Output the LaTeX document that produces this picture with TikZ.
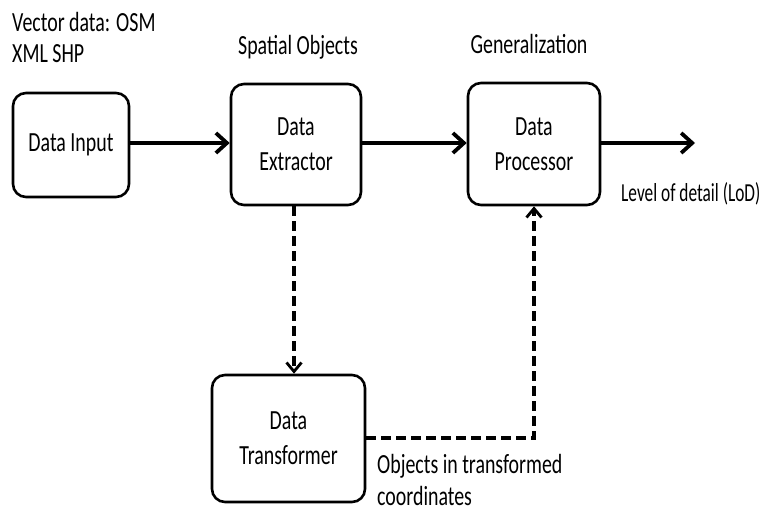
\documentclass[tikz,border=0pt]{standalone}
\usepackage{fontspec}
\usepackage{graphicx}
\setmainfont{Carlito}
\usetikzlibrary{arrows.meta}
% tall, slightly narrow lettering
\newcommand\tx[1]{\scalebox{1.02}[1.42]{#1}}
\newcommand\txs[1]{\scalebox{1.0}[1.5]{#1}}
\begin{document}
\begin{tikzpicture}[x=1bp,y=-1bp,
  font=\fontsize{19.5bp}{35bp}\selectfont,
  block/.style={draw=black, line width=2.6bp, rounded corners=13bp, align=center, inner sep=0pt},
  label/.style={anchor=base west, inner sep=0pt},
  flow/.style={line width=4.2bp, -{Straight Barb[length=11bp, width=20bp, line width=3.8bp]}},
  dflow/.style={line width=3.2bp, dash pattern=on 10bp off 5bp, -{Straight Barb[length=9bp, width=15bp, line width=2.8bp]}}]
  \useasboundingbox (0,0) rectangle (759,513);
  % blocks
  \node[block, minimum width=116bp, minimum height=104bp] (input) at (71,145) {\tx{Data Input}};
  \node[block, minimum width=130bp, minimum height=121bp] (extract) at (296,144.5) {\tx{Data}\\\tx{Extractor}};
  \node[block, minimum width=132bp, minimum height=122bp] (proc) at (534,144) {\tx{Data}\\\tx{Processor}};
  \node[block, minimum width=153bp, minimum height=127bp] (trans) at (288.5,438.5) {\tx{Data}\\\tx{Transformer}};
  % free end of the output arrow and the corner of the dashed return path
  \coordinate (out) at (695,143);
  \coordinate (corner) at (534,438);
  % main flow
  \draw[flow] (input.east |- 0,143) -- (extract.west |- 0,143);
  \draw[flow] (extract.east |- 0,143) -- (proc.west |- 0,143);
  \draw[flow] (proc.east |- out) -- (out);
  % transformation branch
  \draw[dflow] (extract.south -| 294,0) -- (trans.north -| 294,0);
  \draw[dflow, line width=4.2bp] (trans.east |- corner) -- (corner) -- (proc.south -| corner);
  % labels
  \node[label] (vec1) at (12,32) {\tx{Vector data: OSM}};
  \node[label] (vec2) at (12,63) {\tx{XML SHP}};
  \node[anchor=base, inner sep=0pt] (spatial) at (298,55) {\tx{Spatial Objects}};
  \node[anchor=base, inner sep=0pt] (gen) at (529,54) {\tx{Generalization}};
  \node[label, font=\fontsize{17.3bp}{22bp}\selectfont] (lod) at (621,202) {\txs{Level of detail (LoD)}};
  \node[label] (obj1) at (377,473) {\tx{Objects in transformed}};
  \node[label] (obj2) at (377,505) {\tx{coordinates}};
\end{tikzpicture}
\end{document}
